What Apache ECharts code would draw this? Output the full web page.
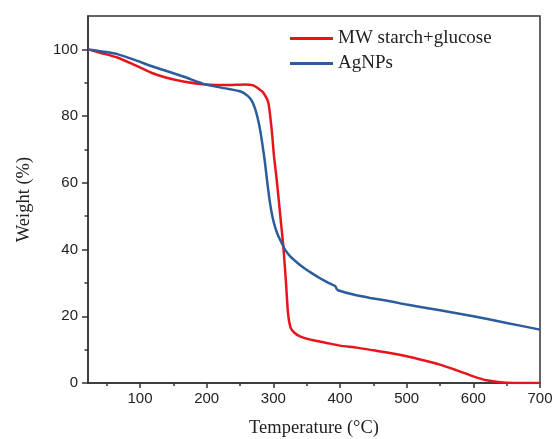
<!DOCTYPE html>
<html>
<head>
<meta charset="utf-8">
<script src="https://cdn.jsdelivr.net/npm/echarts@6/dist/echarts.min.js"></script>
<style>
	html, body { margin: 0; padding: 0; background: #fff; }
	#tga { width: 555px; height: 439px; }
</style>
</head>
<body>
<div id="tga"></div>
<script>
	// temperature (°C), weight (%)
	var starchT = [22, 40, 67, 90, 117, 140, 167, 198, 230, 258, 270, 278, 285, 292.5, 297.5, 301, 305, 311, 315, 319, 322, 326, 332, 340, 360, 380, 400, 425, 450, 475, 500, 525, 550, 575, 600, 620, 640, 660, 700];
	var starchW = [100, 99, 97.5, 95.5, 93, 91.5, 90.3, 89.5, 89.3, 89.5, 89.2, 88.2, 87, 84, 76, 68, 61, 49, 41, 30, 21, 16.5, 15, 14, 12.8, 12, 11.2, 10.6, 9.8, 9, 8, 6.8, 5.5, 3.8, 2, 0.8, 0.2, 0, 0];

	var agT = [22, 45, 67, 90, 117, 140, 167, 198, 228, 252, 262, 268, 273, 277, 280.5, 284, 287.5, 291, 295, 299, 303, 307, 312.5, 318, 325, 335, 345, 357, 370, 382, 393, 395, 397, 420, 445, 475, 500, 550, 600, 650, 700];
	var agW = [100, 99.3, 98.5, 97, 95, 93.5, 91.7, 89.5, 88.3, 87.3, 86, 84.5, 82, 79, 75.5, 71, 66, 60, 54, 49.5, 46.5, 44.3, 42, 39.8, 38, 36.2, 34.6, 33, 31.4, 30.1, 29, 28.2, 27.8, 26.5, 25.5, 24.5, 23.5, 21.8, 20, 18, 16];

	var xLabels = [100, 200, 300, 400, 500, 600, 700];
	var xMinor = [50, 150, 250, 350, 450, 550, 650];
	var yLabels = [0, 20, 40, 60, 80, 100];
	var yMinor = [10, 30, 50, 70, 90];

	function pairs(xs, ys) {
		var out = [];
		for (var i = 0; i < xs.length; i++) out.push([xs[i], ys[i]]);
		return out;
	}

	var sans = "Arial, 'Liberation Sans', sans-serif";
	var serif = "'Times New Roman', 'Liberation Serif', serif";
	var axisColor = "#333";

	var option = {
		backgroundColor: "#fff",
		animation: false,
		grid: {
			left: 88, top: 16, right: 15, bottom: 56,
			outerBoundsMode: "none",
			show: true, borderColor: axisColor, borderWidth: 1.5
		},
		legend: {
			orient: "vertical",
			left: 290,
			top: 29,
			padding: 0,
			icon: "rect",
			itemWidth: 43,
			itemHeight: 3,
			itemGap: 6,
			textStyle: { fontFamily: serif, fontSize: 19, color: "#222" },
			data: ["MW starch+glucose", "AgNPs"]
		},
		xAxis: [{
			type: "value",
			min: 22, max: 700,
			name: "Temperature (°C)",
			nameLocation: "middle",
			nameGap: 36,
			nameTextStyle: { fontFamily: serif, fontSize: 18.5, color: "#222" },
			splitLine: { show: false },
			axisLine: { lineStyle: { color: axisColor, width: 1.5 } },
			axisTick: { customValues: xLabels, length: 5, lineStyle: { color: axisColor, width: 1.5 } },
			axisLabel: { customValues: xLabels, margin: 8, fontFamily: sans, fontSize: 15, color: "#222" }
		}, {
			type: "value",
			min: 22, max: 700,
			position: "bottom",
			gridIndex: 0,
			splitLine: { show: false },
			axisLine: { show: false },
			axisLabel: { show: false },
			axisTick: { customValues: xMinor, length: 3, lineStyle: { color: axisColor, width: 1.5 } }
		}],
		yAxis: [{
			type: "value",
			min: 0, max: 110,
			name: "Weight (%)",
			nameLocation: "middle",
			nameGap: 54,
			nameTextStyle: { fontFamily: serif, fontSize: 18.5, color: "#222" },
			splitLine: { show: false },
			axisLine: { lineStyle: { color: axisColor, width: 1.5 } },
			axisTick: { customValues: yLabels, length: 6, lineStyle: { color: axisColor, width: 1.5 } },
			axisLabel: { customValues: yLabels, margin: 10, fontFamily: sans, fontSize: 15, color: "#222" }
		}, {
			type: "value",
			min: 0, max: 110,
			position: "left",
			splitLine: { show: false },
			axisLine: { show: false },
			axisLabel: { show: false },
			axisTick: { customValues: yMinor, length: 3.5, lineStyle: { color: axisColor, width: 1.5 } }
		}],
		series: [{
			name: "MW starch+glucose",
			type: "line",
			smooth: 0.2,
			showSymbol: false,
			color: "#e8141c",
			lineStyle: { width: 2.5 },
			data: pairs(starchT, starchW)
		}, {
			name: "AgNPs",
			type: "line",
			smooth: 0.2,
			showSymbol: false,
			color: "#2b5c9c",
			lineStyle: { width: 2.5 },
			data: pairs(agT, agW)
		}]
	};

	var chart = echarts.init(document.getElementById("tga"));
	chart.setOption(option);
</script>
</body>
</html>
